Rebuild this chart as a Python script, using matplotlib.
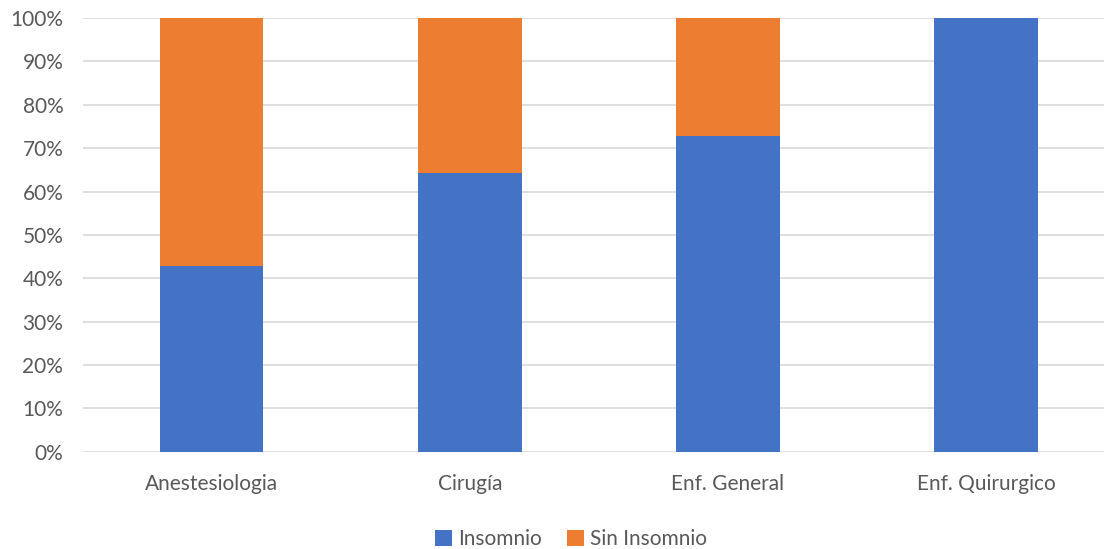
#!/usr/bin/env python3

import matplotlib
matplotlib.use("Agg")
import matplotlib.pyplot as plt
from matplotlib.ticker import PercentFormatter
import numpy as np

categories = ["Anestesiologia", "Cirugía", "Enf. General", "Enf. Quirurgico"]
insomnio = [42.86, 64.29, 72.73, 100.0]
sin_insomnio = [57.14, 35.71, 27.27, 0.0]
series_names = ["Insomnio", "Sin Insomnio"]
colors = ["#4472C4", "#ED7D31"]

plt.rcParams['font.family'] = ['Lato', 'DejaVu Sans']

fig = plt.figure(figsize=(11.04, 5.49), dpi=100)
# plot area runs past the right edge of the picture, as in the original
ax = fig.add_axes([0.075, 0.177, 0.935, 0.790])

x = np.arange(len(categories))
w = 0.40
ax.bar(x, insomnio, w, color=colors[0], label=series_names[0], zorder=3)
ax.bar(x, sin_insomnio, w, bottom=insomnio, color=colors[1],
       label=series_names[1], zorder=3)

ax.set_xlim(-0.5, len(categories) - 0.5)
ax.set_ylim(0, 100)
ax.set_yticks(np.arange(0, 101, 10))
ax.yaxis.set_major_formatter(PercentFormatter(decimals=0))
ax.set_xticks(x)
ax.set_xticklabels(categories)

ax.grid(axis='y', color='#d9d9d9', linewidth=1.2, zorder=0)
for s in ax.spines.values():
    s.set_visible(False)
ax.tick_params(axis='both', length=0, labelsize=15, colors='#595959')
ax.tick_params(axis='x', pad=16)
ax.tick_params(axis='y', pad=14)

ax.legend(loc='upper center', bbox_to_anchor=(0.473, -0.135),
          ncol=2, frameon=False, fontsize=15, handlelength=0.8,
          handleheight=0.8, handletextpad=0.3, columnspacing=1.2,
          labelcolor='#595959')

fig.savefig("out.png", dpi=100)
